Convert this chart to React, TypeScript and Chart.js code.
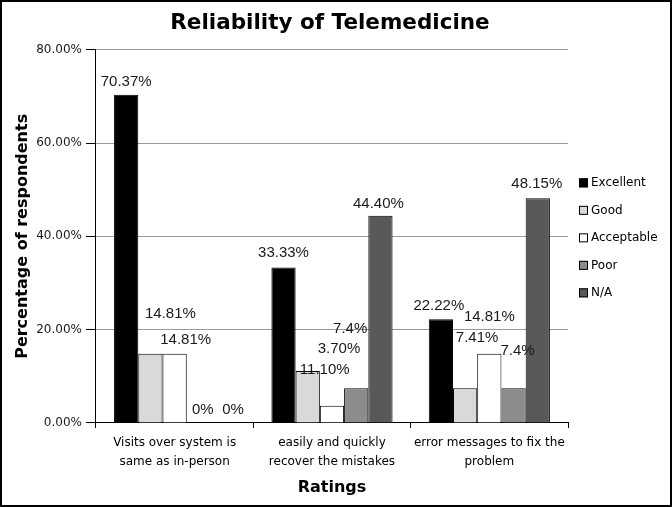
import React, { useEffect, useRef } from "react";
import { Chart, registerables } from "chart.js";

Chart.register(...registerables);

const categories: string[][] = [
  ["Visits over system is", "same as in-person"],
  ["easily and quickly", "recover the mistakes"],
  ["error messages to fix the", "problem"],
];

const seriesNames = ["Excellent", "Good", "Acceptable", "Poor", "N/A"];

const excellent = [70.37, 33.33, 22.22];
const good = [14.81, 11.1, 7.41];
const acceptable = [14.81, 3.7, 14.81];
const poor = [0, 7.4, 7.4];
const notApplicable = [0, 44.4, 48.15];

const excellentLabels = ["70.37%", "33.33%", "22.22%"];
const goodLabels = ["14.81%", "11.10%", "7.41%"];
const acceptableLabels = ["14.81%", "3.70%", "14.81%"];
const poorLabels = ["0%", "7.4%", "7.4%"];
const naLabels = ["0%", "44.40%", "48.15%"];

const yTicks = [0, 20, 40, 60, 80];

// label nudges [dx, dy] in px, per series / category
const labelNudges: number[][][] = [
  [[0, 0], [0, -1], [-2, 0]],
  [[20, -27], [17, 12], [12, -37]],
  [[11, -1], [7, -44], [0, -24]],
  [[4, 0], [-6, -46], [4, -24]],
  [[10, 0], [-2, 1], [-1, -1]],
];

const colors = ["#000000", "#d9d9d9", "#ffffff", "#8c8c8c", "#595959"];

export default function App() {
  const ref = useRef<HTMLCanvasElement | null>(null);

  useEffect(() => {
    if (!ref.current) return;
    const values = [excellent, good, acceptable, poor, notApplicable];
    const texts = [excellentLabels, goodLabels, acceptableLabels, poorLabels, naLabels];

    const dataLabelPlugin = {
      id: "dataLabels",
      afterDatasetsDraw(chart: any) {
        const ctx = chart.ctx;
        ctx.save();
        ctx.font = '15px "Liberation Sans", Arial, sans-serif';
        ctx.fillStyle = "#1a1a1a";
        ctx.textAlign = "center";
        ctx.textBaseline = "alphabetic";
        chart.data.datasets.forEach((_ds: any, i: number) => {
          const meta = chart.getDatasetMeta(i);
          meta.data.forEach((el: any, j: number) => {
            const n = labelNudges[i][j];
            ctx.fillText(texts[i][j], el.x + n[0], el.y - 9 + n[1]);
          });
        });
        ctx.restore();
      },
    };

    const legendPlugin = {
      id: "sideLegend",
      afterDraw(chart: any) {
        const ctx = chart.ctx;
        const area = chart.chartArea;
        const step = 27.5;
        const x0 = area.right + 11;
        const cy = (area.top + area.bottom) / 2 + 1.5;
        const n = chart.data.datasets.length;
        ctx.save();
        ctx.font = '12px "DejaVu Sans", sans-serif';
        ctx.textBaseline = "middle";
        ctx.textAlign = "left";
        chart.data.datasets.forEach((ds: any, i: number) => {
          const y = cy + (i - (n - 1) / 2) * step;
          ctx.fillStyle = ds.backgroundColor;
          ctx.fillRect(x0, y - 4.5, 9, 9);
          ctx.strokeStyle = "#000";
          ctx.lineWidth = 1;
          ctx.strokeRect(x0 + 0.5, y - 4.5 + 0.5, 8, 8);
          ctx.fillStyle = "#000";
          ctx.fillText(ds.label, x0 + 12, y + 0.5);
        });
        ctx.restore();
      },
    };

    const chart = new Chart(ref.current, {
      type: "bar",
      data: {
        labels: categories,
        datasets: seriesNames.map((name, i) => ({
          label: name,
          data: values[i],
          backgroundColor: colors[i],
          borderColor: "#000",
          borderWidth: 1,
          categoryPercentage: 0.77,
          barPercentage: 1.0,
        })),
      },
      options: {
        responsive: false,
        animation: false,
        layout: { padding: { left: 7, right: 19, top: 0, bottom: 7 } },
        plugins: {
          legend: { display: false },
          tooltip: { enabled: false },
          title: {
            display: true,
            text: "Reliability of Telemedicine",
            color: "#000",
            font: { family: "'DejaVu Sans', sans-serif", size: 21.5, weight: "bold" },
            padding: { top: 11, bottom: 13 },
          },
        },
        scales: {
          x: {
            grid: {
              display: true,
              drawOnChartArea: false,
              drawTicks: true,
              tickLength: 5,
              color: "#000",
              offset: true,
            },
            border: { display: true, color: "#000", width: 1 },
            ticks: {
              color: "#000",
              font: { family: "'DejaVu Sans', sans-serif", size: 12, lineHeight: 1.58 },
              padding: 6,
              maxRotation: 0,
              autoSkip: false,
            },
            title: {
              display: true,
              text: "Ratings",
              color: "#000",
              font: { family: "'DejaVu Sans', sans-serif", size: 16, weight: "bold" },
              padding: { top: 0, bottom: 3 },
            },
          },
          y: {
            min: yTicks[0],
            max: yTicks[yTicks.length - 1],
            afterBuildTicks: (axis: any) => {
              axis.ticks = yTicks.map((v) => ({ value: v }));
            },
            grid: {
              color: "#9a9a9a",
              tickColor: "#000",
              tickLength: 10,
              drawTicks: true,
            },
            border: { display: true, color: "#000", width: 1 },
            ticks: {
              color: "#1a1a1a",
              font: { family: "'DejaVu Sans', sans-serif", size: 12 },
              padding: 4,
              callback: (v: any) => Number(v).toFixed(2) + "%",
            },
            title: {
              display: true,
              text: "Percentage of respondents",
              color: "#000",
              font: { family: "'DejaVu Sans', sans-serif", size: 16, weight: "bold" },
              padding: { top: 6, bottom: 0 },
            },
          },
          legendSpace: {
            position: "right",
            display: true,
            grid: { display: false, drawTicks: false },
            border: { display: false },
            ticks: { display: false },
            afterFit: (axis: any) => {
              axis.width = 85;
            },
          },
        },
      } as any,
      plugins: [dataLabelPlugin, legendPlugin],
    });
    return () => chart.destroy();
  }, []);

  return (
    <div style={{ position: "fixed", left: 0, top: 0, width: 672, height: 507, background: "#fff" }}>
      <canvas ref={ref} width={672} height={507} style={{ display: "block" }} />
      <div
        style={{
          position: "absolute",
          left: 0,
          top: 0,
          width: 672,
          height: 507,
          border: "2px solid #000",
          boxSizing: "border-box",
          pointerEvents: "none",
        }}
      />
    </div>
  );
}
